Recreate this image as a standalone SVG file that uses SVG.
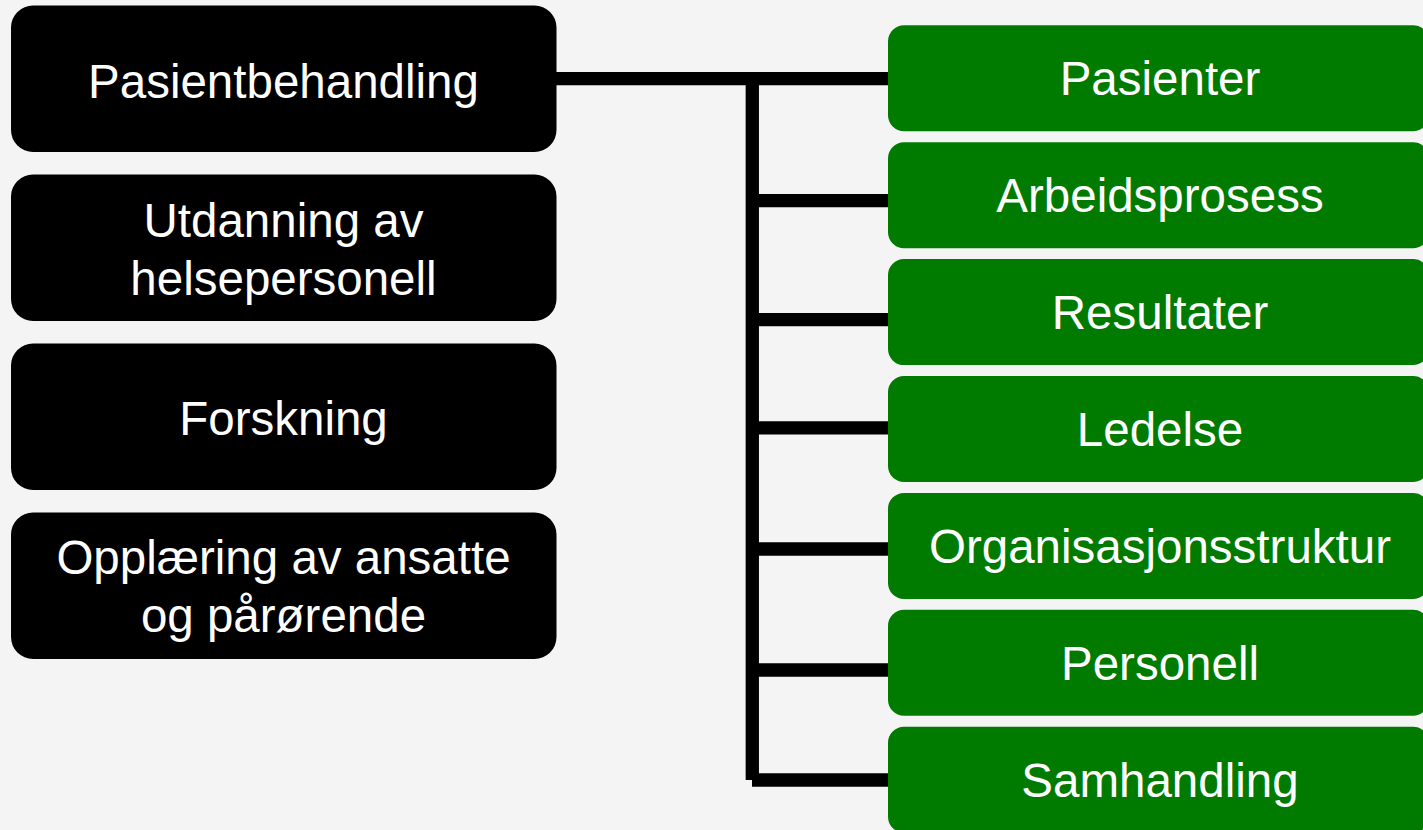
<svg xmlns="http://www.w3.org/2000/svg" width="1423" height="830" viewBox="0 0 1423 830">
<style>
.bk{fill:#000000}
.gr{fill:#007b00}
.t{font-family:"Liberation Sans",Arial,sans-serif;font-size:47.5px;fill:#ffffff;text-anchor:middle}
.c{stroke:#000000;stroke-width:13.3;fill:none;stroke-linecap:butt}
</style>
<rect width="1423" height="830" fill="#f4f4f4"/>
<g id="connectors">
<line class="c" x1="556" y1="78.7" x2="889" y2="78.7"/>
<line class="c" x1="752.3" y1="72" x2="752.3" y2="780"/>
<line class="c" x1="752" y1="200.7" x2="889" y2="200.7"/>
<line class="c" x1="752" y1="319.7" x2="889" y2="319.7"/>
<line class="c" x1="752" y1="427.8" x2="889" y2="427.8"/>
<line class="c" x1="752" y1="549" x2="889" y2="549"/>
<line class="c" x1="752" y1="670" x2="889" y2="670"/>
<line class="c" x1="752" y1="780" x2="889" y2="780"/>
</g>
<g id="n-pasientbehandling"><rect class="bk" x="11" y="5.5" width="545.5" height="146.5" rx="22"/><text class="t" x="283.5" y="98">Pasientbehandling</text></g>
<g id="n-utdanning"><rect class="bk" x="11" y="174.5" width="545.5" height="146.5" rx="22"/><text class="t" x="283.5" y="237">Utdanning av</text><text class="t" x="283.5" y="295">helsepersonell</text></g>
<g id="n-forskning"><rect class="bk" x="11" y="343.5" width="545.5" height="146.5" rx="22"/><text class="t" x="283.5" y="435">Forskning</text></g>
<g id="n-opplaering"><rect class="bk" x="11" y="512.5" width="545.5" height="146.5" rx="22"/><text class="t" x="283.5" y="574">Opplæring av ansatte</text><text class="t" x="283.5" y="632">og pårørende</text></g>
<g id="n-pasienter"><rect class="gr" x="888" y="25.3" width="541" height="106" rx="16"/><text class="t" x="1160" y="95.3">Pasienter</text></g>
<g id="n-arbeidsprosess"><rect class="gr" x="888" y="142.2" width="541" height="106" rx="16"/><text class="t" x="1160" y="212.2">Arbeidsprosess</text></g>
<g id="n-resultater"><rect class="gr" x="888" y="259.1" width="541" height="106" rx="16"/><text class="t" x="1160" y="329.1">Resultater</text></g>
<g id="n-ledelse"><rect class="gr" x="888" y="376" width="541" height="106" rx="16"/><text class="t" x="1160" y="446">Ledelse</text></g>
<g id="n-organisasjonsstruktur"><rect class="gr" x="888" y="492.9" width="541" height="106" rx="16"/><text class="t" x="1160" y="562.9">Organisasjonsstruktur</text></g>
<g id="n-personell"><rect class="gr" x="888" y="609.8" width="541" height="106" rx="16"/><text class="t" x="1160" y="679.8">Personell</text></g>
<g id="n-samhandling"><rect class="gr" x="888" y="726.7" width="541" height="106" rx="16"/><text class="t" x="1160" y="796.7">Samhandling</text></g>
</svg>
